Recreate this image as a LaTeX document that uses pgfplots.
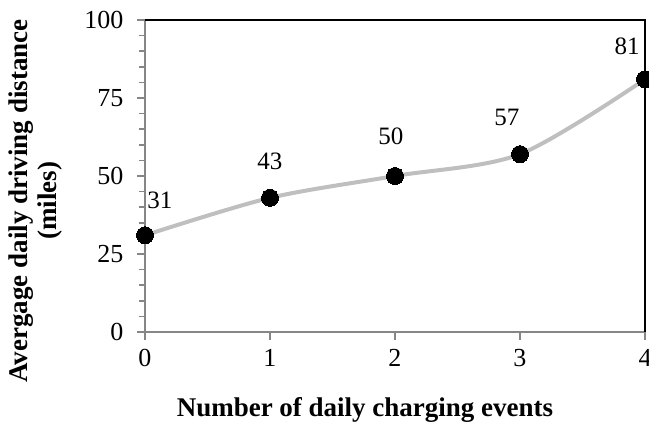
\documentclass[border=0pt]{standalone}
\usepackage{pgfplots}
\usepackage{pgfplotstable}
\pgfplotsset{compat=1.18}
\usepackage{fontspec}
\setmainfont{Liberation Serif}
\definecolor{linegray}{RGB}{191,191,191}
\definecolor{axgray}{RGB}{134,134,134}

\pgfplotstableread{
x y lab dx dy
0 31 31 15 35
1 43 43 0 36
2 50 50 -4 40
3 57 57 -13 37
4 81 81 -18 33
}\distdata

\begin{document}
\begin{tikzpicture}
\begin{axis}[
    scale only axis,
    width=500pt, height=312pt,
    xmin=0, xmax=4, ymin=0, ymax=100,
    axis x line*=bottom, axis y line*=left,
    axis line style={axgray, line width=1.5pt},
    xtick={0,1,2,3,4}, ytick={0,25,50,75,100},
    minor y tick num=4,
    tick align=outside,
    tick style={axgray, line width=1.5pt},
    major tick length=8pt, minor tick length=6pt,
    clip=false,
    /pgf/number format/assume math mode=true,
    tick label style={font=\fontsize{26}{28}\selectfont},
    yticklabel style={xshift=-10pt},
    xticklabel style={yshift=-6pt},
    xlabel={Number of daily charging events},
    ylabel={Avergage daily driving distance\\(miles)},
    xlabel style={font=\fontsize{27}{30}\bfseries\selectfont, at={(rel axis cs:0.44,-0.25)}, anchor=center},
    ylabel style={font=\fontsize{27}{29}\bfseries\selectfont, align=center, at={(rel axis cs:-0.218,0.42)}, anchor=center},
]
\draw[black, line width=1.2pt] (rel axis cs:0,1) -- (rel axis cs:1,1) -- (rel axis cs:1,0);
\addplot[linegray, line width=4pt, smooth, tension=0.5,
    mark=*, mark options={black, fill=black, line width=0pt}, mark size=8.5pt,
    nodes near coords, point meta=explicit symbolic,
    visualization depends on={\thisrow{dx}\as\dx},
    visualization depends on={\thisrow{dy}\as\dy},
    every node near coord/.style={text=black, anchor=center, xshift=\dx pt, yshift=\dy pt,
        font=\fontsize{25}{27}\selectfont},
] table[x=x, y=y, meta=lab] {\distdata};
\end{axis}
\pgfresetboundingbox
\useasboundingbox (-145pt,-92pt) rectangle (504pt,332pt);
\end{tikzpicture}
\end{document}
